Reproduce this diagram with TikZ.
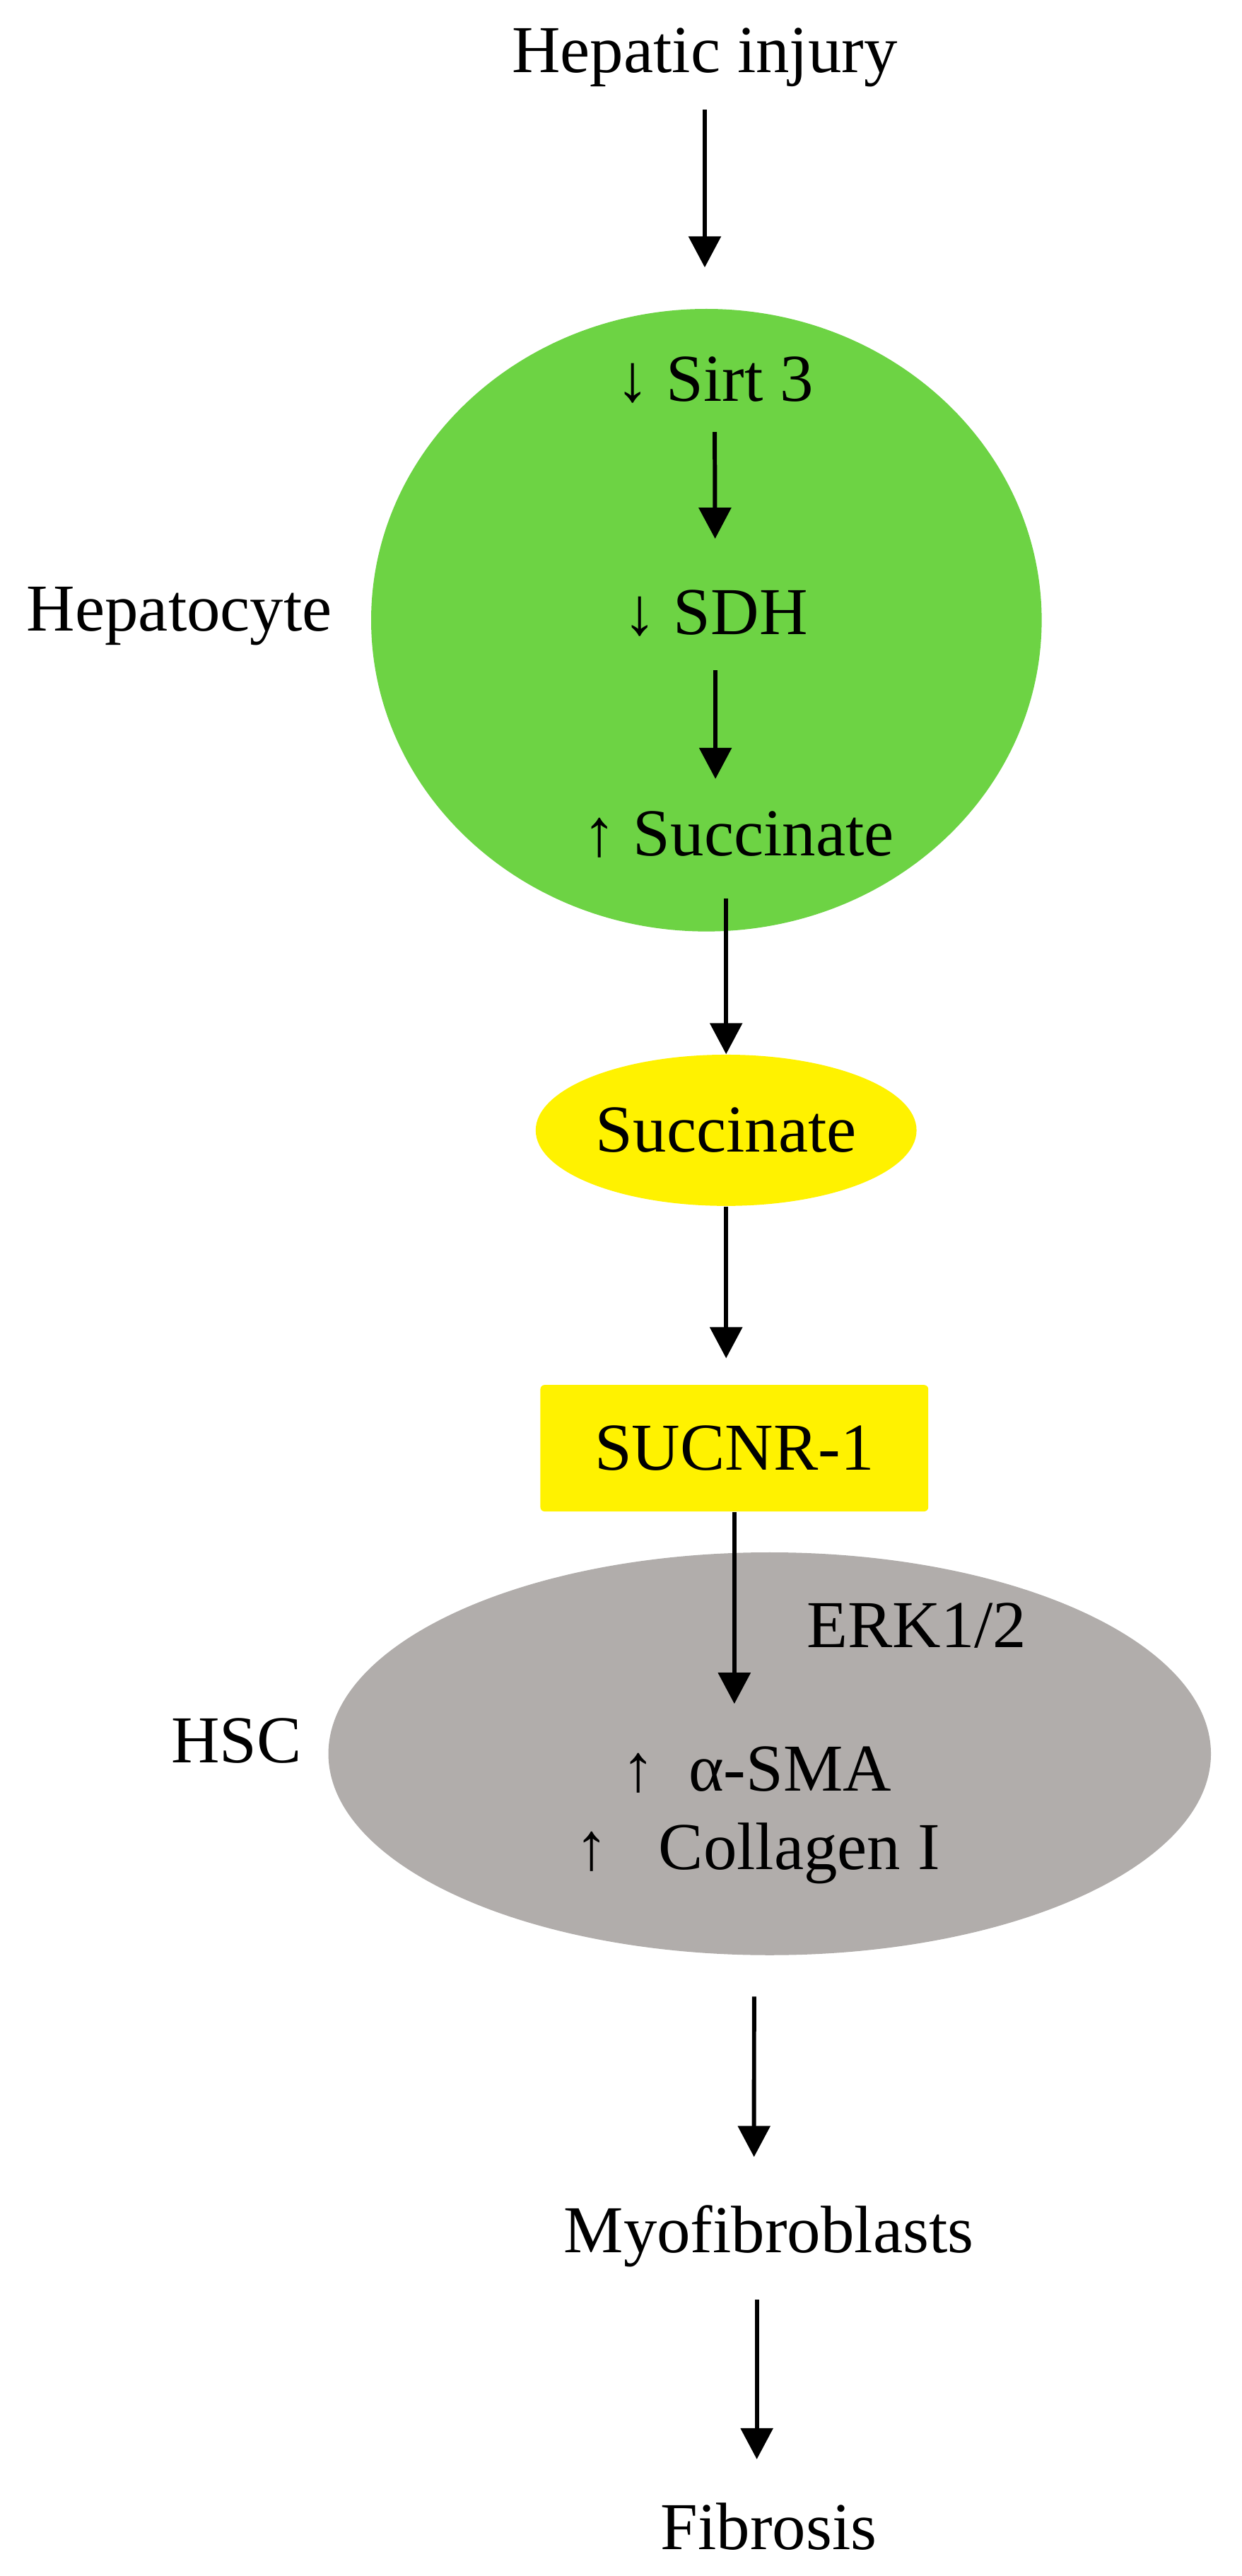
\documentclass[tikz,border=0pt]{standalone}
\usepackage{fontspec}
\setmainfont{Liberation Serif}
\usetikzlibrary{arrows.meta,shapes.geometric}
\definecolor{hepgreen}{HTML}{6DD344}
\definecolor{hscgrey}{HTML}{B1ADAB}

\begin{document}
\begin{tikzpicture}[x=0.2325mm, y=-0.2325mm, font=\fontsize{27}{32}\selectfont,
    lbl/.style={anchor=base, inner sep=0pt},
    arr/.style={-{Triangle[width=4.5mm, length=4.4mm]}, line width=1.7pt}]
    \useasboundingbox (0,0) rectangle (756,1568);
    \node[ellipse, fill=hepgreen, inner sep=0pt, minimum width=94.9mm, minimum height=88.1mm] (hepcell) at (430,377.5) {};
    \node[ellipse, fill=yellow, inner sep=0pt, minimum width=53.9mm, minimum height=21.4mm] (sucx) at (442,688) {Succinate};
    \node[fill=yellow, inner sep=0pt, rounded corners=0.6mm, minimum width=54.9mm, minimum height=17.9mm] (rcpt) at (447,881.5) {SUCNR-1};
    \node[ellipse, fill=hscgrey, inner sep=0pt, minimum width=124.9mm, minimum height=57mm] (hscell) at (468.5,1067.5) {};
    \node[lbl] (inj) at (429,44) {Hepatic injury};
    \node[lbl, anchor=base west] (hepl) at (16,384) {Hepatocyte};
    \node[lbl] (sirt) at (435,244) {↓ Sirt 3};
    \node[lbl] (sdh) at (435.5,386) {↓ SDH};
    \node[lbl] (succ) at (449.5,521) {↑ Succinate};
    \node[lbl] (erk) at (558,1003) {ERK1/2};
    \node[lbl, anchor=base west] (hscl) at (104,1073) {HSC};
    \node[lbl] (sma) at (460.5,1090) {↑~~α-SMA};
    \node[lbl] (col) at (461,1138) {↑~~~Collagen I};
    \node[lbl] (myo) at (468,1371) {Myofibroblasts};
    \node[lbl] (fib) at (468,1552) {Fibrosis};
    \draw[arr, shorten <=5.3mm, shorten >=5.8mm] (inj.base) -- (inj.base |- hepcell.north);
    \draw[arr, shorten <=4.4mm, shorten >=13.5mm] (sirt.base) -- (sdh.base);
    \draw[arr, shorten <=5.1mm, shorten >=10.9mm] (sdh.base) -- (sdh.base |- succ.base);
    \draw[arr, shorten <=6mm] (sucx.north |- succ.base) -- (sucx.north);
    \draw[arr, shorten >=3.7mm] (sucx.south) -- (sucx.south |- rcpt.north);
    \draw[arr, shorten >=12.3mm] (rcpt.south) -- (rcpt.south |- sma.base);
    \draw[arr, shorten <=5.8mm, shorten >=13.5mm] ([xshift=-2.2mm]hscell.south) -- ([xshift=-2.1mm]myo.base);
    \draw[arr, shorten <=6.7mm, shorten >=12.8mm] ([xshift=-1.7mm]myo.base) -- ([xshift=-1.7mm]fib.base);
\end{tikzpicture}
\end{document}
